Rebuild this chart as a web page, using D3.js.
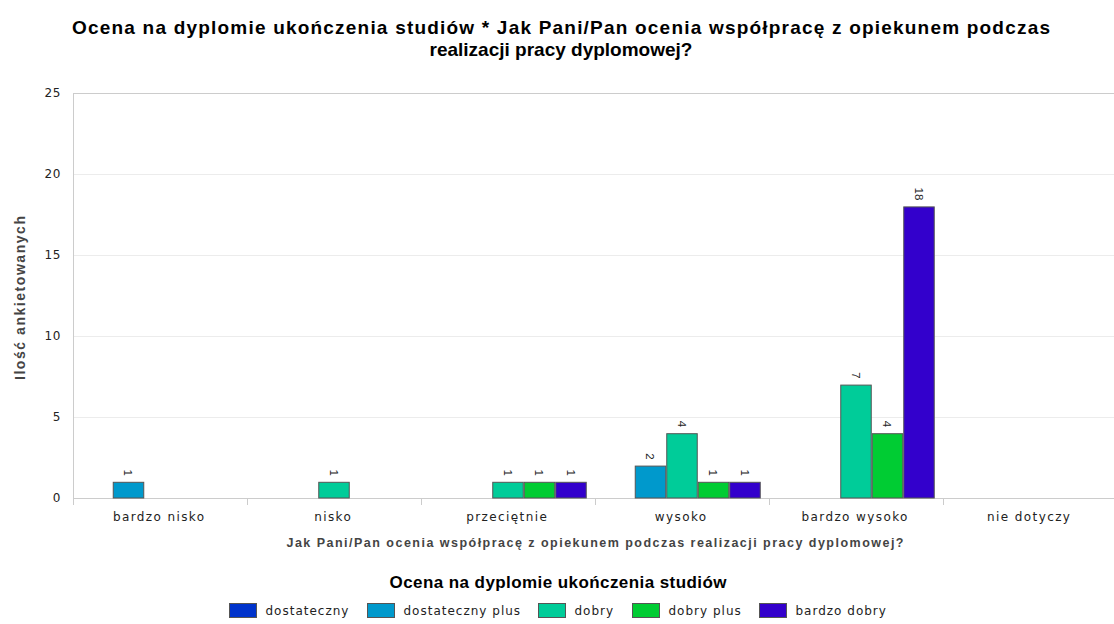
<!DOCTYPE html>
<html><head><meta charset="utf-8">
<script src="https://cdn.jsdelivr.net/npm/d3@7"></script>
<style>body{margin:0;background:#fff}svg{display:block}</style>
</head><body>
<svg id="c" width="1114" height="624"></svg>
<script>
const categories = ["bardzo nisko","nisko","przeciętnie","wysoko","bardzo wysoko","nie dotyczy"];
const seriesNames = ["dostateczny","dostateczny plus","dobry","dobry plus","bardzo dobry"];
const seriesColors = ["#0033cc","#0099cc","#00cc99","#00cc33","#3300cc"];
// values[series][category]
const dostateczny     = [0,0,0,0,0,0];
const dostatecznyPlus = [1,0,0,2,0,0];
const dobry           = [0,1,1,4,7,0];
const dobryPlus       = [0,0,1,1,4,0];
const bardzoDobry     = [0,0,1,1,18,0];
const seriesValues = [dostateczny,dostatecznyPlus,dobry,dobryPlus,bardzoDobry];
const yTicks = [0,5,10,15,20,25];
const title = ["Ocena na dyplomie ukończenia studiów * Jak Pani/Pan ocenia współpracę z opiekunem podczas","realizacji pracy dyplomowej?"];
const xTitle = "Jak Pani/Pan ocenia współpracę z opiekunem podczas realizacji pracy dyplomowej?";
const yTitle = "Ilość ankietowanych";
const legendTitle = "Ocena na dyplomie ukończenia studiów";

const svg = d3.select("#c");
const L = 73, R = 1117, T = 93, B = 498;
const x0 = d3.scaleBand().domain(categories).range([L, R]).padding(0);
const pad = 8.25;
const x1 = d3.scaleBand().domain(seriesNames).range([pad, x0.bandwidth()-pad]).padding(0);
const y = d3.scaleLinear().domain([0,25]).range([B, T]);

// grid
svg.append("g").selectAll("line").data(yTicks.filter(d=>d>0)).join("line")
  .attr("x1", L).attr("x2", 1114).attr("y1", d=>y(d)).attr("y2", d=>y(d))
  .attr("stroke", d=>d===25?"#cccccc":"#ececec").attr("stroke-width",1)
  .attr("shape-rendering","crispEdges");

// y axis line
svg.append("line").attr("x1",L).attr("x2",L).attr("y1",T).attr("y2",B+7)
  .attr("stroke","#cccccc").attr("shape-rendering","crispEdges");
// x axis line
svg.append("line").attr("x1",L).attr("x2",1114).attr("y1",B).attr("y2",B)
  .attr("stroke","#cccccc").attr("shape-rendering","crispEdges");
// category boundary ticks
svg.append("g").selectAll("line").data(categories.slice(1)).join("line")
  .attr("x1",d=>x0(d)).attr("x2",d=>x0(d)).attr("y1",B).attr("y2",B+7)
  .attr("stroke","#cccccc").attr("shape-rendering","crispEdges");

// y tick labels
svg.append("g").selectAll("text").data(yTicks).join("text")
  .attr("x", 61).attr("y", d=>y(d)).attr("dy","0.35em")
  .attr("text-anchor","end").attr("font-family","DejaVu Sans").attr("font-size",12)
  .attr("letter-spacing","0.6px")
  .attr("fill","#222").text(d=>d);

// x tick labels
svg.append("g").selectAll("text").data(categories).join("text")
  .attr("x", d=>x0(d)+x0.bandwidth()/2-0.8).attr("y", 521)
  .attr("text-anchor","middle").attr("font-family","DejaVu Sans").attr("font-size",12)
  .attr("letter-spacing","1.4px")
  .attr("fill","#222").text(d=>d);

// bars
const flat = [];
seriesValues.forEach((vals,si)=>vals.forEach((v,ci)=>{ if(v>0) flat.push({s:seriesNames[si],si,c:categories[ci],v}); }));
svg.append("g").selectAll("rect").data(flat).join("rect")
  .attr("x", d=>x0(d.c)+x1(d.s)+0.5).attr("y", d=>y(d.v)+0.5)
  .attr("width", x1.bandwidth()-1).attr("height", d=>B-y(d.v)-0.5)
  .attr("fill", d=>seriesColors[d.si]).attr("stroke","#555555").attr("stroke-width",1);

// value labels (rotated)
svg.append("g").selectAll("text").data(flat).join("text")
  .attr("transform", d=>`translate(${x0(d.c)+x1(d.s)+x1.bandwidth()/2},${y(d.v)-6}) rotate(90)`)
  .attr("text-anchor","end").attr("dy","0.35em")
  .attr("font-family","Liberation Sans").attr("font-size",11.5).attr("fill","#222")
  .text(d=>d.v);

// title
svg.append("g").selectAll("text").data(title).join("text")
  .attr("x", 561).attr("y",(d,i)=>34+i*22).attr("text-anchor","middle")
  .attr("font-family","Liberation Sans").attr("font-weight","bold").attr("font-size",19)
  .attr("fill","#000")
  .attr("textLength",(d,i)=>i===0?978:null).attr("lengthAdjust","spacing")
  .text(d=>d);

// axis titles
svg.append("text").attr("x",(L+R)/2).attr("y",547).attr("text-anchor","middle")
  .attr("font-family","Liberation Sans").attr("font-weight","bold").attr("font-size",12.5)
  .attr("textLength",617).attr("lengthAdjust","spacing")
  .attr("fill","#444").text(xTitle);
svg.append("text").attr("transform",`translate(25,298) rotate(-90)`).attr("text-anchor","middle")
  .attr("font-family","Liberation Sans").attr("font-weight","bold").attr("font-size",14)
  .attr("textLength",164).attr("lengthAdjust","spacing")
  .attr("fill","#444").text(yTitle);

// legend
svg.append("text").attr("x",558).attr("y",588).attr("text-anchor","middle")
  .attr("font-family","Liberation Sans").attr("font-weight","bold").attr("font-size",17)
  .attr("textLength",337).attr("lengthAdjust","spacing")
  .attr("fill","#000").text(legendTitle);
const lg = svg.append("g");
const items = lg.selectAll("g").data(seriesNames).join("g");
items.append("rect").attr("width",27).attr("height",14).attr("y",603.5)
  .attr("fill",(d,i)=>seriesColors[i]).attr("stroke","#555555");
items.append("text").attr("x",36).attr("y",615).attr("font-family","DejaVu Sans").attr("font-size",12)
  .attr("letter-spacing","1px")
  .attr("fill","#222").text(d=>d);
let xpos = 0; const offs=[];
const gap = 18;
items.each(function(d){ offs.push(xpos); const w=d3.select(this).select("text").node().getComputedTextLength(); xpos += 36 + w + gap; });
const total = xpos - gap;
const start = 557.5 - total/2;
items.attr("transform",(d,i)=>`translate(${Math.round(start+offs[i])+0.5},0)`);
</script>
</body></html>
